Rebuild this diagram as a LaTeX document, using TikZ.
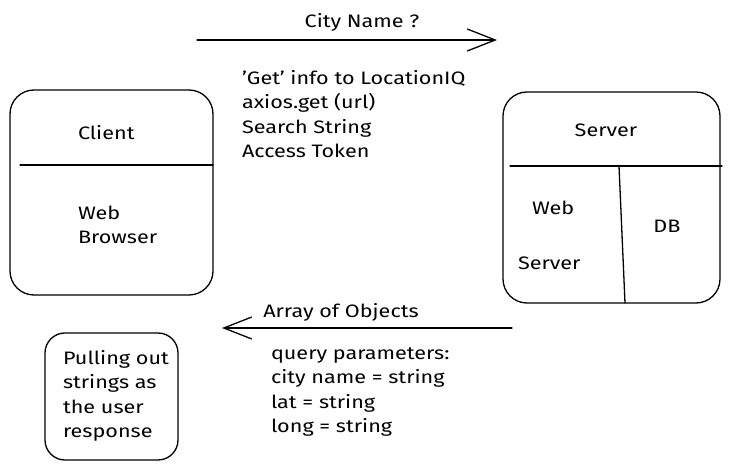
\documentclass[tikz,border=0pt]{standalone}
\usepackage{fontspec}
\setmainfont[FakeStretch=1.2]{Fira Sans}
\usetikzlibrary{arrows.meta}
\begin{document}
\begin{tikzpicture}[x=1pt,y=-1pt,
  every path/.style={line width=1.3pt, line cap=round, line join=round},
  box/.style={draw, rectangle, rounded corners=24pt, inner sep=0pt, outer sep=0pt},
  lbl/.style={inner sep=0pt, outer sep=0pt, font=\fontsize{18}{24.5}\selectfont, align=left},
  arr/.style={-{Straight Barb[length=28pt,width=22pt,line width=1.3pt]}}]
\useasboundingbox (0,0) rectangle (731,470);
% client
\node[box, minimum width=203pt, minimum height=205pt] (client) at (111.5,192.5) {};
\draw ([xshift=10pt]client.west |- 0,165) coordinate (cl) -- (client.east |- 0,165) coordinate (cr);
\node[lbl, anchor=west] (clientt) at (78,133) {Client};
\node[lbl, anchor=west] (webb) at (78,225) {Web\\Browser};
% server
\node[box, minimum width=217pt, minimum height=211pt] (server) at (611.5,197.5) {};
\coordinate (sl) at (510,166);
\coordinate (sr) at (722,166);
\draw (sl) -- (sr);
\coordinate (vt) at (619,166);
\coordinate (vb) at (625,303);
\draw (vt) -- (vb);
\node[lbl] (servert) at (606,130) {Server};
\node[lbl, anchor=west] (webs) at (532,208) {Web};
\node[lbl, anchor=west] (webs2) at (518,263) {Server};
\node[lbl] (db) at (667,226) {DB};
% top arrow
\coordinate (a1s) at (197,40);
\coordinate (a1e) at (497,40);
\draw[arr] (a1s) -- (a1e);
\node[lbl] (cityname) at (362,22) {City Name ?};
\node[lbl, anchor=west] (getinfo) at (242,114) {'Get' info to LocationIQ\\axios.get (url)\\Search String\\Access Token};
% bottom arrow
\coordinate (a2s) at (512,328);
\coordinate (a2e) at (222,328);
\draw[arr] (a2s) -- (a2e);
\node[lbl] (arrobj) at (341,312) {Array of Objects};
\node[lbl, anchor=west] (query) at (271,392) {query parameters:\\city name = string\\lat = string\\long = string};
% small box
\node[box, rounded corners=20pt, minimum width=133pt, minimum height=127pt] (pull) at (111.5,396.5) {};
\node[lbl, anchor=west] (pullt) at (63,396) {Pulling out\\strings as\\the user\\response};
\end{tikzpicture}
\end{document}
